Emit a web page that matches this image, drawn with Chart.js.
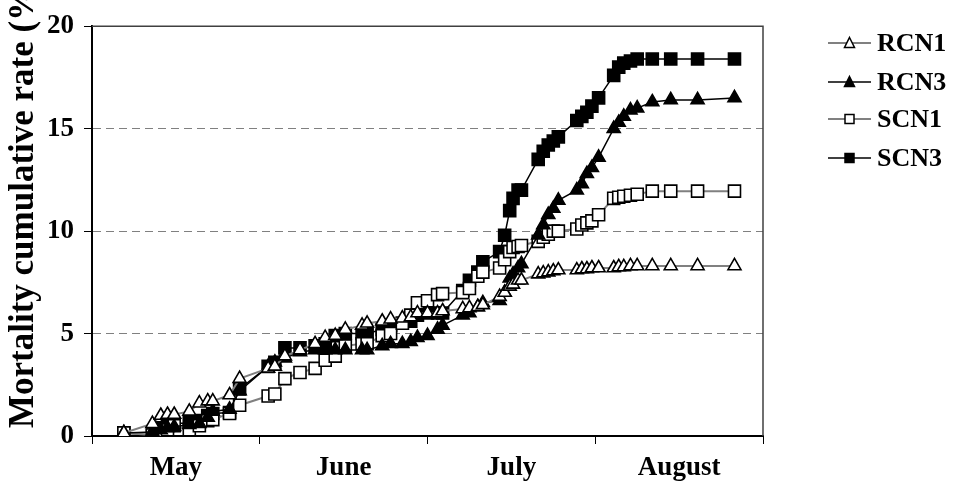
<!DOCTYPE html>
<html>
<head>
<meta charset="utf-8">
<script src="https://cdn.jsdelivr.net/npm/chart.js@4.4.1/dist/chart.umd.min.js"></script>
<style>
  html, body { margin: 0; padding: 0; background: #fff; }
  #wrap { width: 953px; height: 485px; position: relative; }
</style>
</head>
<body>
<div id="wrap"><canvas id="mortChart"></canvas></div>
<script>
const months = ['May', 'June', 'July', 'August'];
const yTitle = 'Mortality cumulative rate (%)';

// sampling dates, as position in months from 1 May
const sampleMonth = [0.19, 0.36, 0.41, 0.45, 0.49, 0.58, 0.64, 0.69, 0.72, 0.82, 0.88, 1.05, 1.09, 1.15,
  1.24, 1.33, 1.39, 1.45, 1.51, 1.61, 1.64, 1.73, 1.78, 1.85, 1.90, 1.94, 2.00, 2.06, 2.09, 2.21, 2.25,
  2.30, 2.33, 2.43, 2.46, 2.49, 2.51, 2.54, 2.56, 2.66, 2.69, 2.72, 2.75, 2.78, 2.89, 2.92, 2.95, 2.98,
  3.02, 3.11, 3.14, 3.17, 3.21, 3.25, 3.34, 3.45, 3.61, 3.83];

const rcn1 = [0.15, 0.6, 1.0, 1.05, 1.05, 1.2, 1.6, 1.7, 1.7, 2.0, 2.8, 3.3, 3.4, 3.9, 4.2, 4.5, 4.8, 4.9,
  5.2, 5.4, 5.5, 5.6, 5.7, 5.75, 5.8, 6.0, 6.0, 6.0, 6.1, 6.2, 6.25, 6.3, 6.4, 6.8, 7.0, 7.3, 7.4, 7.6, 7.6,
  7.9, 7.95, 8.0, 8.05, 8.1, 8.1, 8.15, 8.15, 8.2, 8.2, 8.2, 8.25, 8.25, 8.3, 8.3, 8.3, 8.3, 8.3, 8.3];
const rcn3 = [0.15, 0.2, 0.3, 0.4, 0.45, 0.55, 0.6, 0.9, 1.2, 1.3, 2.2, 3.4, 3.6, 3.8, 4.1, 4.2, 4.2, 4.2,
  4.2, 4.2, 4.2, 4.4, 4.5, 4.5, 4.6, 4.8, 4.9, 5.2, 5.4, 5.9, 6.0, 6.3, 6.5, 6.6, 7.0, 7.7, 7.9, 8.2, 8.4,
  9.8, 10.3, 10.8, 11.1, 11.5, 12.0, 12.3, 12.8, 13.1, 13.6, 15.0, 15.3, 15.6, 15.9, 16.0, 16.3, 16.4, 16.4, 16.5];
const scn1 = [0.15, 0.05, 0.05, 0.3, 0.5, 0.3, 0.5, 0.75, 0.8, 1.1, 1.5, 1.95, 2.05, 2.8, 3.1, 3.3, 3.7, 3.9,
  4.4, 4.5, 4.5, 4.9, 5.0, 5.5, 5.9, 6.5, 6.6, 6.9, 6.95, 7.0, 7.2, 7.8, 8.0, 8.2, 8.6, 9.0, 9.2, 9.25, 9.3,
  9.5, 9.7, 9.85, 10.0, 10.0, 10.1, 10.3, 10.4, 10.5, 10.8, 11.6, 11.65, 11.7, 11.75, 11.8, 11.95, 11.95, 11.95, 11.95];
const scn3 = [0.15, 0.05, 0.4, 0.5, 0.6, 0.65, 0.75, 1.0, 1.1, 1.15, 2.3, 3.4, 3.6, 4.3, 4.3, 4.4, 4.5, 4.9,
  5.0, 5.0, 5.0, 5.2, 5.4, 5.5, 5.6, 5.9, 6.0, 6.0, 6.0, 7.1, 7.6, 8.0, 8.5, 9.0, 9.8, 11.0, 11.6, 12.0, 12.0,
  13.5, 13.9, 14.2, 14.4, 14.6, 15.4, 15.6, 15.8, 16.1, 16.5, 17.6, 18.0, 18.2, 18.3, 18.4, 18.4, 18.4, 18.4, 18.4];

const serif = '"Liberation Serif", "Times New Roman", serif';

function series(label, values, lineColor, fill, style) {
  return {
    label: label,
    data: sampleMonth.map((m, i) => ({ x: m, y: values[i] })),
    borderColor: lineColor,
    borderWidth: lineColor === '#000000' ? 1.5 : 2,
    pointStyle: style,
    pointRadius: style === 'rect' ? 8.5 : 7.5,
    pointBorderColor: '#000000',
    pointBackgroundColor: fill,
    pointBorderWidth: 1.6,
    tension: 0
  };
}

// frame, rotated title and the line+marker legend
const extras = {
  id: 'extras',
  afterDraw(chart) {
    const ctx = chart.ctx;
    const a = chart.chartArea;
    ctx.save();
    ctx.strokeStyle = '#404040';
    ctx.lineWidth = 1.5;
    ctx.beginPath();
    ctx.moveTo(a.left, a.top);
    ctx.lineTo(a.right, a.top);
    ctx.lineTo(a.right, a.bottom);
    ctx.stroke();

    ctx.translate(33, 428);
    ctx.rotate(-Math.PI / 2);
    ctx.font = 'bold 35px ' + serif;
    ctx.fillStyle = '#000';
    ctx.textAlign = 'left';
    ctx.textBaseline = 'alphabetic';
    ctx.fillText(yTitle, 0, 0);
    ctx.restore();

    const rows = [43, 82, 119, 158];
    chart.data.datasets.forEach((ds, i) => {
      const y = rows[i];
      ctx.save();
      ctx.strokeStyle = ds.borderColor;
      ctx.lineWidth = ds.borderWidth;
      ctx.beginPath();
      ctx.moveTo(828, y);
      ctx.lineTo(871, y);
      ctx.stroke();
      ctx.fillStyle = ds.pointBackgroundColor;
      ctx.strokeStyle = '#000';
      ctx.lineWidth = 1.5;
      ctx.beginPath();
      if (ds.pointStyle === 'rect') {
        ctx.rect(845, y - 4.5, 9, 9);
      } else {
        ctx.moveTo(849.5, y - 5.5);
        ctx.lineTo(854.5, y + 4.5);
        ctx.lineTo(844.5, y + 4.5);
        ctx.closePath();
      }
      ctx.fill();
      ctx.stroke();
      ctx.font = 'bold 26px ' + serif;
      ctx.fillStyle = '#000';
      ctx.textBaseline = 'middle';
      ctx.fillText(ds.label, 877, y + 1);
      ctx.restore();
    });
  }
};

const ctx = document.getElementById('mortChart').getContext('2d');
const chart = new Chart(ctx, {
  type: 'line',
  data: {
    datasets: [
      series('RCN1', rcn1, '#808080', '#ffffff', 'triangle'),
      series('RCN3', rcn3, '#000000', '#000000', 'triangle'),
      series('SCN1', scn1, '#808080', '#ffffff', 'rect'),
      series('SCN3', scn3, '#000000', '#000000', 'rect')
    ]
  },
  options: {
    responsive: true,
    maintainAspectRatio: false,
    animation: false,
    layout: { padding: { left: 0, right: 190, top: 16, bottom: 0 } },
    plugins: { legend: { display: false }, tooltip: { enabled: false } },
    scales: {
      x: { type: 'linear', min: 0, max: 4, display: false },
      month: {
        type: 'category',
        labels: months,
        position: 'bottom',
        offset: true,
        afterFit(scale) { scale.height = 49; },
        grid: { offset: true, drawOnChartArea: false, drawTicks: true, tickLength: 8, color: '#000', tickColor: '#000' },
        border: { display: true, color: '#000', width: 2 },
        ticks: { color: '#000', padding: 8, maxRotation: 0, font: { family: serif, size: 27, weight: 'bold' } }
      },
      y: {
        min: 0,
        max: 20,
        afterFit(scale) { scale.width = 92; },
        ticks: { stepSize: 5, color: '#000', padding: 10, font: { family: serif, size: 27, weight: 'bold' } },
        grid: {
          color: c => (c.tick && (c.tick.value === 0 || c.tick.value === 20)) ? 'rgba(0,0,0,0)' : '#808080',
          lineWidth: 1,
          tickColor: '#000',
          tickLength: 8
        },
        border: { display: true, color: '#000', width: 2, dash: [8, 5] }
      }
    }
  },
  plugins: [extras]
});
</script>
</body>
</html>
